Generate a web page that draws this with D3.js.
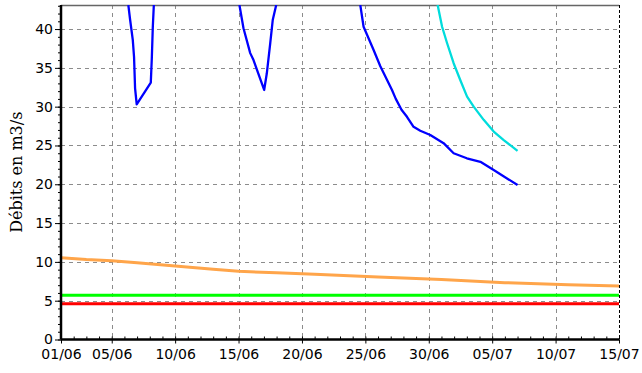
<!DOCTYPE html>
<html><head><meta charset="utf-8">
<script src="https://cdn.jsdelivr.net/npm/d3@7"></script>
<style>body{margin:0;background:#fff}svg{display:block}</style>
</head><body>
<script>
// ---- data (day offsets from 01/06) ----
const xTickDays = [0, 4, 9, 14, 19, 24, 29, 34, 39, 44];
const xTickLabels = ["01/06","05/06","10/06","15/06","20/06","25/06","30/06","05/07","10/07","15/07"];
const yTicks = [0,5,10,15,20,25,30,35,40];
const yMax = 43.1;

// null = above chart (not visible)
const blueDays   = [5.31,5.45,5.66,5.76,5.84,5.97,7.08,7.16,7.24,7.32, 10,
                    14.07,14.39,14.92,15.18,16.02,16.23,16.5,16.7,16.97, 20,
                    23.6,23.86,24.65,25.18,26.1,26.4,26.85,27.28,27.8,28.33,29.12,30.17,30.96,32.0,33.07,34.12,36.0];
const blueValues = [43.1,41.2,38.6,36.4,32.4,30.3,33.1,36.2,40.3,43.1, null,
                    43.1,40.1,36.9,36.0,32.15,34.3,38.2,41.2,43.1, null,
                    43.1,40.3,37.3,35.2,32.15,31.0,29.6,28.7,27.4,26.9,26.35,25.3,24.0,23.35,22.9,21.85,19.9];

const cyanDays   = [29.7,30.05,30.44,30.96,31.49,32.02,32.54,33.33,34.12,34.91,36.0];
const cyanValues = [43.1,40.3,38.2,35.6,33.4,31.3,30.0,28.3,26.8,25.7,24.3];

const orangeDays   = [0,2,4,6,9,12,14,17,20,25,30,35,40,44];
const orangeValues = [10.54,10.3,10.15,9.9,9.47,9.05,8.79,8.6,8.4,8.05,7.73,7.32,7.06,6.89];

const greenDays = [0,44], greenValues = [5.7,5.7];
const redDays   = [0,44], redValues   = [4.6,4.6];

// ---- layout ----
const W = 642, H = 373;
const L = 61, R = 619, T = 5, B = 339.5;

const svg = d3.select("body").append("svg").attr("width", W).attr("height", H);
const x = d3.scaleLinear().domain([0,44]).range([L,R]);
const y = d3.scaleLinear().domain([0,yMax]).range([B,T]);

// grid
const grid = svg.append("g").attr("stroke","#8c8c8c").attr("stroke-width",1).attr("stroke-dasharray","4,4");
grid.selectAll("line.h").data(yTicks.filter(v=>v>0)).enter().append("line")
  .attr("x1",L).attr("x2",R).attr("y1",d=>Math.round(y(d))+0.5).attr("y2",d=>Math.round(y(d))+0.5);
grid.selectAll("line.v").data(xTickDays.filter(d=>d>0 && d<44)).enter().append("line")
  .attr("y1",T).attr("y2",B).attr("x1",d=>Math.round(x(d))+0.5).attr("x2",d=>Math.round(x(d))+0.5);

// top border and right border
svg.append("line").attr("x1",L).attr("x2",R).attr("y1",T+0.5).attr("y2",T+0.5).attr("stroke","#666").attr("stroke-width",1.5);
svg.append("line").attr("x1",R+0.5).attr("x2",R+0.5).attr("y1",T).attr("y2",B).attr("stroke","#000").attr("stroke-width",1).attr("stroke-dasharray","3,2");

// series
svg.append("clipPath").attr("id","clip").append("rect").attr("x",L).attr("y",T).attr("width",R-L).attr("height",B-T);
const plot = svg.append("g").attr("clip-path","url(#clip)");
function drawSeries(days, vals, color, width){
  const pts = days.map((d,i)=>[d, vals[i]]);
  const line = d3.line().defined(p=>p[1]!==null).x(p=>x(p[0])).y(p=>y(p[1]));
  plot.append("path").datum(pts).attr("d",line).attr("fill","none")
    .attr("stroke",color).attr("stroke-width",width).attr("stroke-linejoin","round");
}
drawSeries(redDays, redValues, "#ff0000", 3);
drawSeries(greenDays, greenValues, "#00ff00", 3);
drawSeries(orangeDays, orangeValues, "#ffa54a", 3);
drawSeries(blueDays, blueValues, "#0000ff", 2.3);
drawSeries(cyanDays, cyanValues, "#00dcdc", 2.3);

// axes
const font = "DejaVu Sans, Verdana, sans-serif";
const yAxis = d3.axisLeft(y).tickValues(yTicks).tickSize(6).tickPadding(2).tickFormat(d3.format("d"));
const gy = svg.append("g").attr("transform",`translate(${L},0)`).call(yAxis);
const yMinor = d3.axisLeft(y).tickValues(d3.range(0,44,1)).tickSize(3).tickFormat("");
svg.append("g").attr("transform",`translate(${L},0)`).call(yMinor).select(".domain").remove();

const xAxis = d3.axisBottom(x).tickValues(xTickDays).tickSize(4).tickPadding(6).tickFormat((d,i)=>xTickLabels[i]);
const gx = svg.append("g").attr("transform",`translate(0,${B})`).call(xAxis);
const xMinor = d3.axisTop(x).tickValues(d3.range(0,45,1)).tickSize(3).tickFormat("");
svg.append("g").attr("transform",`translate(0,${B})`).call(xMinor).select(".domain").remove();

[gx, gy].forEach(g=>{
  g.selectAll("text").attr("font-family",font).attr("font-size",14).attr("fill","#000");
  g.selectAll(".domain").attr("stroke","#000").attr("stroke-width",2.5);
  g.selectAll(".tick line").attr("stroke","#000");
});
gy.select(".domain").attr("d",`M0,${T}V${B}`);
gx.select(".domain").attr("d",`M${L},0H${R}`);

// y label
svg.append("text").attr("transform",`translate(22,${(T+B)/2}) rotate(-90)`)
  .attr("text-anchor","middle").attr("font-family","DejaVu Serif, serif").attr("font-size",16)
  .text("Débits en m3/s");
</script>
</body></html>
